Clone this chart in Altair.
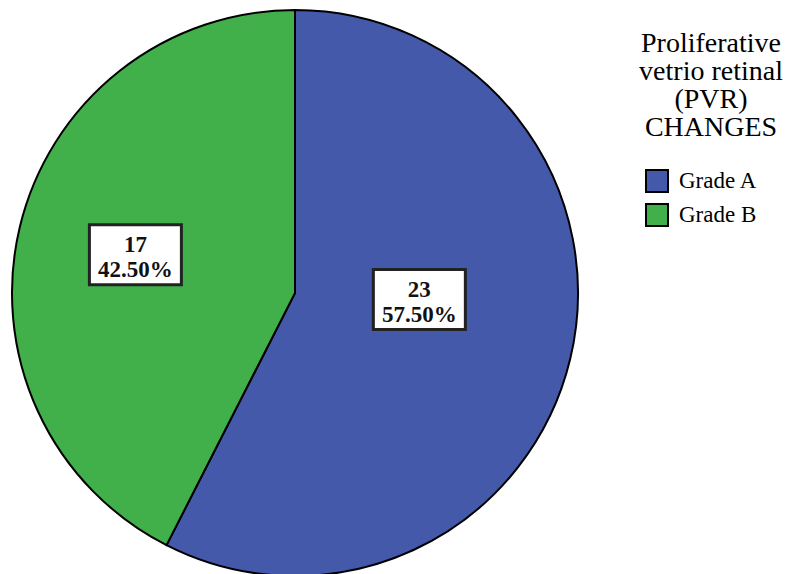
import altair as alt
import pandas as pd
import numpy as np

grades = ["Grade A", "Grade B"]
counts = [23, 17]
percent_labels = ["57.50%", "42.50%"]
colors = ["#4459A9", "#41B04B"]
legend_title = ["Proliferative", "vetrio retinal", "(PVR)", "CHANGES"]

# geometry (styles)
CX, CY, R = 295, 293, 283
label_r = [0.44, 0.58]        # label distance as fraction of radius
label_shift = [-10.5, 0.0]    # angular nudge of label, degrees
BOX_W, BOX_H = 92, 60

total = sum(counts)
rows = []
cum = 0
for g, c, p, lr, sh in zip(grades, counts, percent_labels, label_r, label_shift):
    mid = (cum + c / 2) / total * 2 * np.pi + np.radians(sh)
    cum += c
    lx = CX + lr * R * np.sin(mid)
    ly = CY - lr * R * np.cos(mid)
    rows.append(dict(grade=g, count=c, line1=str(c), line2=p,
                     lx=lx, ly=ly,
                     bx=lx - BOX_W / 2, bx2=lx + BOX_W / 2,
                     by=ly - BOX_H / 2, by2=ly + BOX_H / 2))
df = pd.DataFrame(rows)

title_df = pd.DataFrame({"line": legend_title,
                         "ty": [52 + 28 * i for i in range(len(legend_title))]})

pie = alt.Chart(df).mark_arc(radius=R, stroke="black", strokeWidth=2).encode(
    theta=alt.Theta("count:Q", stack=True),
    color=alt.Color(
        "grade:N",
        scale=alt.Scale(domain=grades, range=colors),
        legend=alt.Legend(
            orient="none", legendX=645, legendY=169,
            title=None,
            labelFont="Liberation Serif", labelFontSize=23, labelColor="black",
            labelOffset=10,
            symbolType="square", symbolSize=484, symbolStrokeColor="black",
            symbolStrokeWidth=2, symbolOpacity=1, rowPadding=4,
        ),
    ),
    order=alt.Order("grade:N"),
    x=alt.value(CX),
    y=alt.value(CY),
)

legend_title_text = alt.Chart(title_df).mark_text(
    font="Liberation Serif", fontSize=28, color="black", align="center",
    baseline="alphabetic").encode(
    x=alt.value(711), y=alt.Y("ty:Q", scale=None), text="line:N")

boxes = alt.Chart(df).mark_rect(fill="white", stroke="#222", strokeWidth=3).encode(
    x=alt.X("bx:Q", scale=None), x2="bx2:Q",
    y=alt.Y("by:Q", scale=None), y2="by2:Q",
)

t1 = alt.Chart(df).mark_text(font="Liberation Serif", fontSize=23, fontWeight="bold",
                             color="#111", dy=-10, baseline="middle").encode(
    x=alt.X("lx:Q", scale=None), y=alt.Y("ly:Q", scale=None), text="line1:N")
t2 = alt.Chart(df).mark_text(font="Liberation Serif", fontSize=23, fontWeight="bold",
                             color="#111", dy=15, baseline="middle").encode(
    x=alt.X("lx:Q", scale=None), y=alt.Y("ly:Q", scale=None), text="line2:N")

chart = alt.layer(pie, boxes, t1, t2, legend_title_text).properties(
    width=789, height=574, padding=0, autosize=alt.AutoSizeParams(type="none"),
    background="white",
).configure_view(stroke=None)

chart.save("out.html", embed_options={"renderer": "svg", "actions": False})
